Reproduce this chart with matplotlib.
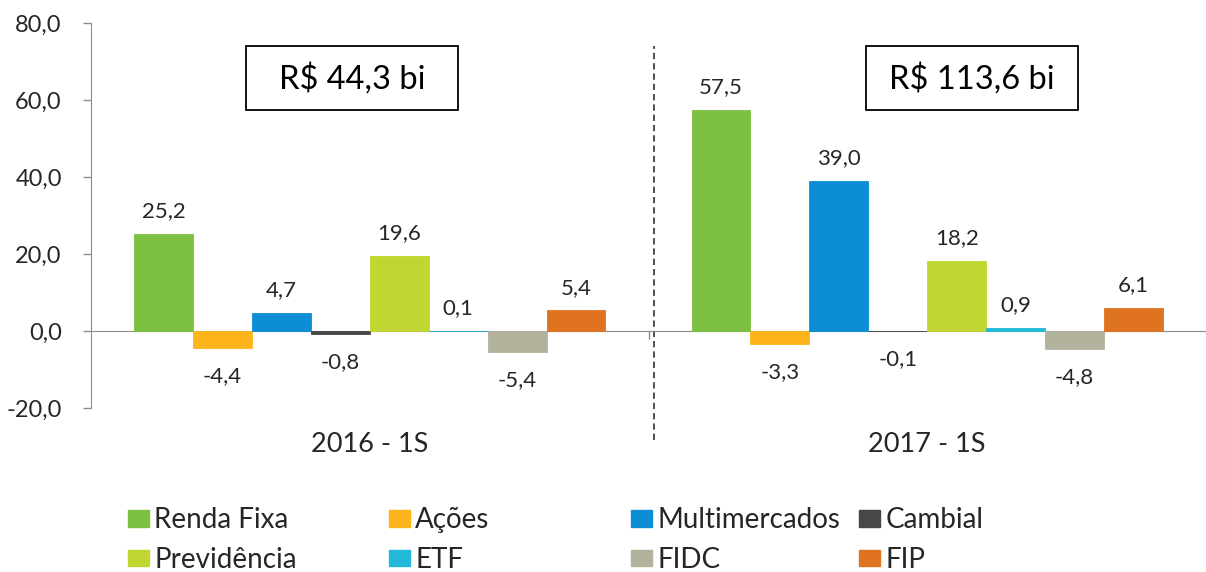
import matplotlib.pyplot as plt
from matplotlib.patches import Rectangle, Patch
import matplotlib.transforms as mtransforms
import numpy as np

plt.rcParams['font.family'] = ['Lato', 'DejaVu Sans']

# data
periods = ['2016 - 1S', '2017 - 1S']
totals = ['R$ 44,3 bi', 'R$ 113,6 bi']
series = ['Renda Fixa', 'Ações', 'Multimercados', 'Cambial',
          'Previdência', 'ETF', 'FIDC', 'FIP']
values = [
    [25.2, 57.5],   # Renda Fixa
    [-4.4, -3.3],   # Ações
    [4.7, 39.0],    # Multimercados
    [-0.8, -0.1],   # Cambial
    [19.6, 18.2],   # Previdência
    [0.1, 0.9],     # ETF
    [-5.4, -4.8],   # FIDC
    [5.4, 6.1],     # FIP
]
colors = ['#7DC142', '#FDB51B', '#0C8DD6', '#474747',
          '#C1D631', '#22B8D7', '#B3B39D', '#E0731F']
yticks = [-20, 0, 20, 40, 60, 80]

W, H = 1206, 572
fig = plt.figure(figsize=(W / 100, H / 100), dpi=100)
ax = fig.add_axes([91 / W, 1 - 408 / H, 1 - 91 / W, (408 - 23) / H])

txt = '#262626'
gray = '#8C8C8C'
fs = 16

x = np.arange(len(periods))
w = 0.1057
for j, name in enumerate(series):
    pos = x + (j - 3.5) * w
    bars = ax.bar(pos, values[j], width=w, color=colors[j], label=name,
                  edgecolor=colors[j], linewidth=0.6, zorder=3)
    for b, v in zip(bars, values[j]):
        lbl = f'{v:.1f}'.replace('.', ',')
        if v >= 0:
            ax.annotate(lbl, (b.get_x() + w / 2, v), xytext=(0, 9),
                        textcoords='offset points', ha='center', va='bottom',
                        fontsize=fs, color=txt)
        else:
            ax.annotate(lbl, (b.get_x() + w / 2, v), xytext=(0, -13),
                        textcoords='offset points', ha='center', va='top',
                        fontsize=fs, color=txt)

ax.set_xlim(-0.5, 1.5)
ax.set_ylim(-20, 80)
ax.set_yticks(yticks)
ax.set_yticklabels([f'{t:.1f}'.replace('.', ',') for t in yticks])
ax.tick_params(axis='y', direction='out', length=6, width=1, color=gray,
               pad=15, labelsize=17, labelcolor=txt)

for s in ['top', 'right']:
    ax.spines[s].set_visible(False)
ax.spines['left'].set_color(gray)
ax.spines['bottom'].set_color(gray)
ax.spines['bottom'].set_position(('data', 0))
ax.spines['bottom'].set_zorder(2)
ax.set_xticks([0.5])
ax.set_xticklabels([''])
ax.tick_params(axis='x', direction='out', length=6, width=1, color=gray)

# category labels below the plot
trans = mtransforms.blended_transform_factory(ax.transData, ax.transAxes)
for i, p in enumerate(periods):
    ax.text(i, -0.096, p, transform=trans, ha='center', va='center',
            fontsize=19.5, color=txt)

# divider between periods
ax.axvline(0.509, ymin=-0.083, ymax=0.94, color='#404040', lw=1.3,
           linestyle=(0, (3.5, 2.2)), clip_on=False, zorder=1)

# total boxes
box_x = [246, 866]
for bx, t in zip(box_x, totals):
    fig.add_artist(Rectangle((bx / W, 1 - 110 / H), 212 / W, 64 / H,
                             transform=fig.transFigure, fill=False,
                             edgecolor='black', lw=1.3))
    fig.text((bx + 106) / W, 1 - 79 / H, t, ha='center', va='center',
             fontsize=23.5, color='black')

# legend: four columns, two rows
col_x = [128, 389, 631, 859]
for j, cx in enumerate(col_x):
    hs = [Patch(color=colors[j]), Patch(color=colors[j + 4])]
    fig.legend(hs, [series[j], series[j + 4]], loc='upper left',
               bbox_to_anchor=(cx / W, 1 - 507 / H), frameon=False,
               fontsize=20, handlelength=0.75, handleheight=0.55,
               handletextpad=0.2, labelspacing=0.5, borderaxespad=0,
               borderpad=0, labelcolor=txt)

fig.savefig('out.png', dpi=100)
